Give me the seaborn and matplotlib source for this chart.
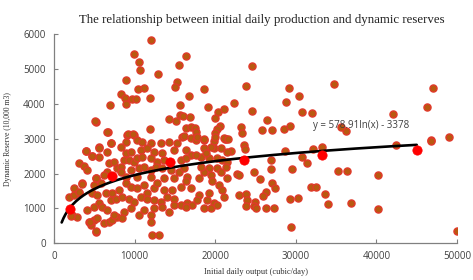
import numpy as np
import pandas as pd
import matplotlib
matplotlib.use("Agg")
import matplotlib.pyplot as plt
import seaborn as sns

# 初始日产量 (cubic/day) 与 动态储量 (10,000 m3)
output = [
    # 主体密集区 0-17000
    9100, 9930, 8890, 10340, 10960, 11990, 13240, 14270, 15300, 15920, 16960, 7030, 5580, 3930,
    4760, 5580, 6620, 8270, 8890, 9510, 10750, 11580, 12410, 13440, 14890, 16340, 16960,
    6820, 7440, 7860, 8270, 8690, 9310, 9930, 10340, 10960, 11990, 12820, 13650, 15720, 16340,
    3100, 3720, 4140, 6620, 8270, 9510, 10550, 11170, 11990, 12610, 13440, 14480, 15510, 16130,
    6200, 8890, 10340, 11990, 13650, 14890, 16540, 5170, 3520, 2480, 3100, 1860,
    4960, 5790, 4760, 5380, 6410, 7240, 8070, 8890, 9510, 10340, 11170, 11580, 12410, 12820,
    13650, 14680, 15720, 16340, 16960, 7030, 7650, 8480, 9310, 9930, 10750, 11580, 12410, 13240,
    14060, 14890, 15720, 16540, 17160, 5580, 4960, 4140, 6000, 6620,
    2270, 2900, 4340, 4960, 5380, 6200, 5170, 6820, 7240, 7860, 7440, 8690, 9510, 10550, 11170,
    11990, 11990, 12410, 13440, 14270, 14890, 16340, 4550, 12200, 13030, 8480,
    2110, 2480, 3100, 3430, 3970, 4680, 5170, 5580, 5170, 4470, 5170, 6660, 7070,
    # 17000-23000
    17580, 18610, 19850, 21300, 19850, 20680, 18200, 19230, 20270, 20890, 21510, 21300, 20270,
    20680, 21510, 19230, 18610, 17990, 19440, 19640, 20470, 20890, 21090, 19230, 19020, 19850,
    17990, 17780, 18610, 19440, 20260, 17580, 18200, 18610, 19440, 18820,
    # 22000-35000
    28620, 32130, 33290, 30810, 31350, 29490, 26920, 26960, 23610, 23660, 22000, 21500, 21220,
    22740, 22950, 24810, 25600, 27050, 27420, 26340, 25930, 22990, 23860, 23980, 23860, 24940,
    24810, 25060, 26340, 27260, 29320, 30230, 31850, 32540, 33660, 34030, 29440,
    # 上部分散点
    12000, 9970, 10590, 10630, 12900, 16380, 15470, 8930, 15220, 15050, 10460, 11170, 8270, 8770,
    9680, 10210, 11870, 8930, 6910, 16750, 15630, 5130, 14270, 15180, 15630, 16040, 16870, 6610,
    9220, 9840, 11870, 16420, 17040, 16130,
    24530, 18570, 23860, 29160, 30440, 28820, 19150, 20390, 21050, 22330, 24530, 30810, 32010,
    34740, 19930, 26430, 20560, 20260, 23200, 23290, 25810, 27010, 28570, 29280, 17490, 17580,
    19930, 19930, 21090, 21590, 18610, 17780,
    # 右侧
    47060, 46310, 42060, 36190, 35570, 46730, 48970, 42430, 46730, 35230, 36390, 40240, 36810,
    40200, 49960,
]
reserve = [
    3110, 3110, 2920, 2960, 2920, 2870, 2870, 2920, 2870, 3060, 3010, 2870, 2750, 2660,
    2510, 2480, 2630, 2770, 2580, 2630, 2680, 2720, 2630, 2580, 2680, 2680, 2530,
    2290, 2340, 2150, 2200, 2390, 2390, 2340, 2440, 2480, 2440, 2340, 2390, 2390, 2440,
    2290, 2220, 2100, 2050, 2050, 2100, 2150, 2200, 2100, 2200, 2150, 2100, 2050, 2150,
    1960, 1910, 1910, 1910, 1860, 1860, 1910, 1860, 1720, 1570, 1430, 1330,
    1670, 1720, 1430, 1380, 1430, 1430, 1530, 1720, 1620, 1570, 1670, 1430, 1570, 1720,
    1530, 1530, 1620, 1770, 1570, 1240, 1280, 1330, 1280, 1190, 1330, 1280, 1240, 1190,
    1330, 1280, 1090, 1140, 1090, 1140, 1050, 950, 1050, 950,
    810, 760, 610, 660, 710, 570, 330, 610, 660, 760, 810, 900, 1000, 810, 950,
    810, 600, 1000, 1050, 900, 1090, 1050, 520, 230, 230, 710,
    780, 1380, 1470, 1700, 2650, 2510, 3490, 2740, 1870, 600, 345, 3190, 2870,
    2960, 2960, 2930, 2990, 2720, 2740, 2480, 2440, 2440, 2390, 2340, 2200, 2150,
    2050, 1860, 2150, 2050, 1860, 1960, 1770, 1670, 1530, 1330, 1430, 1240, 1140,
    1380, 1240, 1020, 1000, 1100, 2530, 2200, 2720, 2770, 2580,
    2650, 2710, 2770, 2470, 2300, 2140, 2380, 2140, 2820, 2710, 2660, 2630, 2990,
    1980, 1950, 2050, 1850, 1720, 1570, 1480, 1350, 1380, 1400, 1230, 1070, 1190,
    1060, 1020, 1020, 1000, 1280, 1300, 1600, 1600, 1420, 1110, 450,
    5840, 5440, 5220, 4970, 4850, 5380, 5110, 4690, 4620, 4500, 4430, 4470, 4290, 4160,
    4150, 4140, 4170, 4000, 3960, 4230, 3980, 3510, 3560, 3520, 3680, 3660, 3630, 3190,
    3150, 3150, 3270, 3300, 3330, 3080,
    5090, 4440, 4520, 4470, 4230, 4060, 3900, 3770, 3860, 4030, 3790, 3760, 3750,
    4580, 3590, 3540, 3360, 3280, 3340, 3170, 3240, 3240, 3270, 3380, 3320, 3200,
    3160, 3040, 3020, 3000, 2980, 3060,
    4450, 3910, 3720, 3230, 3350, 2960, 3060, 2820, 2940, 2070, 2070, 1970, 1140,
    970, 350,
]

# 分段平均点（红色大点）
mean_output = [1950, 7160, 14350, 23570, 33210, 45070]
mean_reserve = [980, 1940, 2340, 2400, 2530, 2680]

# 对数趋势线 y = a*ln(x) + b
coef_a = 578.91
coef_b = -3378
fit_start, fit_end = 950, 45000

df = pd.DataFrame({"output": output, "reserve": reserve})
df_mean = pd.DataFrame({"output": mean_output, "reserve": mean_reserve})
fit_x = np.linspace(fit_start, fit_end, 200)
df_fit = pd.DataFrame({"output": fit_x, "reserve": coef_a * np.log(fit_x) + coef_b})

sns.set_style("ticks")
plt.rcParams["font.family"] = ["Open Sans", "DejaVu Sans"]

fig = plt.figure(figsize=(4.73, 2.8), dpi=100)
ax = fig.add_axes([0.1142, 0.1321, 0.852, 0.7447])

sns.scatterplot(data=df, x="output", y="reserve", ax=ax, s=26, color="#b9590f",
                edgecolor="#e0392a", linewidth=1.0, zorder=2)
sns.lineplot(data=df_fit, x="output", y="reserve", ax=ax, color="black", linewidth=1.9, zorder=3)
sns.scatterplot(data=df_mean, x="output", y="reserve", ax=ax, s=45, color="#ff0000",
                edgecolor="#ff0000", linewidth=0.5, zorder=4)

ax.set_xlim(0, 50000)
ax.set_ylim(0, 6000)
ax.set_xticks([0, 10000, 20000, 30000, 40000, 50000])
ax.set_yticks([0, 1000, 2000, 3000, 4000, 5000, 6000])
ax.tick_params(direction="in", length=3, width=0.8, colors="#808080", labelcolor="#404040",
               labelsize=7, pad=6)
for side in ["left", "bottom"]:
    ax.spines[side].set_color("#808080")
    ax.spines[side].set_linewidth(0.9)
sns.despine(ax=ax)

ax.text(32130, 3370, "y = 578.91ln(x) - 3378", fontsize=7, color="#404040", va="center")

ax.set_xlabel("Initial daily output (cubic/day)", family="Liberation Serif", fontsize=6,
              color="#303030", labelpad=4)
ax.set_ylabel("Dynamic Reserve (10,000 m3)", family="Liberation Serif", fontsize=5.5,
              color="#303030", labelpad=8)
fig.text(0.554, 0.93, "The relationship between initial daily production and dynamic reserves",
         family="Liberation Serif", fontsize=9.3, color="#202020", ha="center", va="center")

fig.savefig("out.png", dpi=100)
